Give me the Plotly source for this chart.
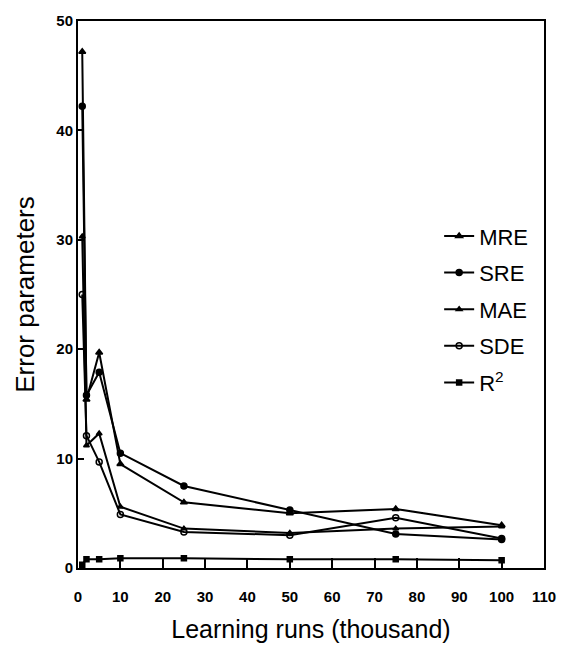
import plotly.graph_objects as go

runs = [1, 2, 5, 10, 25, 50, 75, 100]
mre = [47.2, 15.4, 19.7, 9.5, 6.0, 5.0, 5.4, 3.9]
sre = [42.2, 15.8, 17.9, 10.5, 7.5, 5.3, 3.1, 2.6]
mae = [30.3, 11.2, 12.3, 5.6, 3.6, 3.2, 3.6, 3.8]
sde = [25.0, 12.1, 9.7, 4.9, 3.3, 3.0, 4.6, 2.7]
r2 = [0.3, 0.8, 0.8, 0.9, 0.9, 0.8, 0.8, 0.7]

series = [
    ("MRE", mre, "triangle-up", 6),
    ("SRE", sre, "circle", 6),
    ("MAE", mae, "triangle-up", 5),
    ("SDE", sde, "circle-open", 6),
    ("R<sup>2</sup>", r2, "square", 5),
]

fig = go.Figure()
for i, (name, vals, sym, sz) in enumerate(series):
    fig.add_trace(go.Scatter(
        x=runs, y=vals, name=name, mode="lines+markers",
        legendgroup=f"g{i}",
        line=dict(color="black", width=2),
        marker=dict(symbol=sym, size=sz, color="black",
                    line=dict(color="black", width=1.5)),
    ))

fig.update_layout(
    width=568, height=653,
    margin=dict(l=78, r=17, t=12, b=85),
    paper_bgcolor="white", plot_bgcolor="white",
    font=dict(family="Liberation Sans, Arial, sans-serif", color="black"),
    showlegend=True,
    legend=dict(x=0.775, y=0.645, xanchor="left", yanchor="top",
                font=dict(size=22), bgcolor="rgba(0,0,0,0)",
                itemwidth=30, tracegroupgap=5),
    xaxis=dict(
        range=[0, 110], tickvals=list(range(0, 111, 10)),
        showgrid=False, zeroline=False, showline=True, linecolor="black",
        linewidth=2, mirror=True, ticks="inside", ticklen=10, tickwidth=1.5,
        tickcolor="black", ticklabelstandoff=14,
        tickfont=dict(size=15, family="Liberation Sans, Arial, sans-serif", weight="bold"),
        title=dict(text="Learning runs (thousand)", font=dict(size=25), standoff=16),
    ),
    yaxis=dict(
        range=[0, 50], tickvals=list(range(0, 51, 10)),
        showgrid=False, zeroline=False, showline=True, linecolor="black",
        linewidth=2, mirror=True, ticks="inside", ticklen=6, tickwidth=1.5,
        tickcolor="black",
        tickfont=dict(size=15, family="Liberation Sans, Arial, sans-serif", weight="bold"),
        title=dict(text="Error parameters", font=dict(size=26), standoff=14),
    ),
)

fig.write_html("out.html")
